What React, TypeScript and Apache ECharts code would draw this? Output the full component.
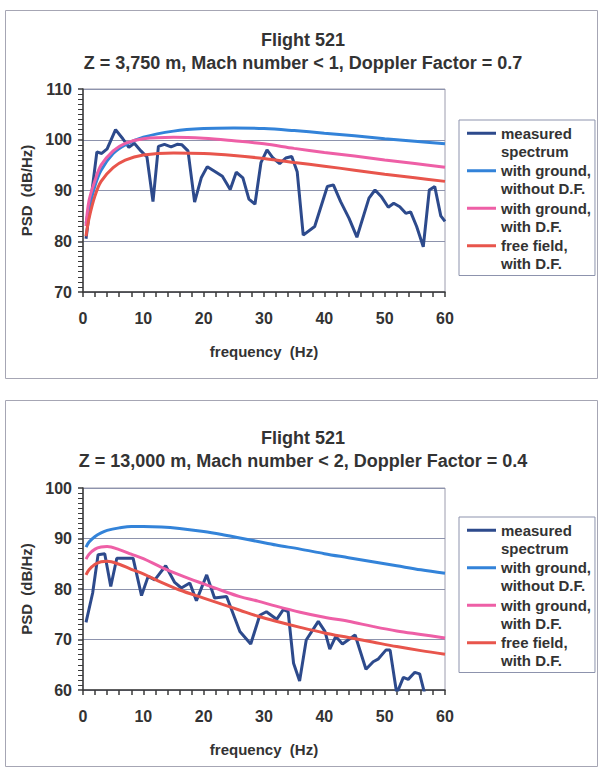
import React, { useEffect, useRef } from "react";
import * as echarts from "echarts";

// ---------- data: top chart (Z = 3,750 m) ----------
const topMeasFreq = [0.5, 2.3, 3.1, 4.0, 5.4, 6.6, 7.6, 8.5, 9.6, 10.6, 11.6, 12.5, 13.5, 14.6, 15.6, 16.4, 17.4, 18.5, 19.6, 20.6, 21.8, 23.1, 24.4, 25.4, 26.5, 27.5, 28.5, 29.5, 30.5, 31.5, 32.6, 33.6, 34.6, 35.5, 36.5, 38.4, 40.5, 41.5, 42.7, 44.1, 45.4, 47.4, 48.4, 49.5, 50.6, 51.5, 52.5, 53.5, 54.3, 55.3, 56.4, 57.4, 58.3, 59.3, 60];
const topMeasPsd = [80.5, 97.6, 97.3, 98.2, 102.0, 100.2, 98.5, 99.3, 97.8, 96.6, 87.8, 98.7, 99.1, 98.6, 99.1, 99.0, 97.8, 87.7, 92.5, 94.7, 93.8, 92.8, 90.2, 93.6, 92.5, 88.3, 87.3, 95.5, 98.0, 96.4, 95.3, 96.4, 96.7, 93.7, 81.2, 82.9, 90.8, 91.1, 87.8, 84.5, 80.8, 88.5, 90.1, 88.7, 86.7, 87.5, 86.8, 85.5, 85.8, 82.9, 78.9, 90.1, 90.8, 85.0, 83.9];
const topModelFreq = [0.5, 1, 2, 3, 5, 7, 10, 15, 20, 25, 30, 35, 40, 45, 50, 55, 60];
const topGroundNoDF = [83.5, 86.5, 91.0, 94.0, 97.3, 99.0, 100.5, 101.7, 102.2, 102.3, 102.2, 101.8, 101.3, 100.8, 100.2, 99.7, 99.2];
const topGroundDF = [83.0, 88.0, 92.0, 95.0, 97.8, 99.3, 100.2, 100.5, 100.3, 99.8, 99.2, 98.3, 97.5, 96.8, 96.0, 95.3, 94.6];
const topFreeDF = [81.0, 84.5, 89.0, 91.8, 94.5, 96.0, 97.0, 97.4, 97.3, 96.9, 96.3, 95.5, 94.8, 94.0, 93.2, 92.5, 91.8];

// ---------- data: bottom chart (Z = 13,000 m) ----------
const botMeasFreq = [0.5, 1.6, 2.5, 3.6, 4.6, 5.6, 8.3, 9.7, 10.8, 11.9, 13.7, 15.2, 16.3, 17.7, 18.8, 20.5, 21.8, 23.8, 26.0, 27.8, 29.3, 30.4, 32.1, 33.2, 34.0, 34.9, 35.9, 37.0, 39.0, 40.1, 40.9, 41.9, 43.0, 45.1, 46.9, 48.1, 48.9, 50.2, 50.9, 52.0, 53.1, 53.9, 55.0, 55.8, 57.0];
const botMeasPsd = [73.4, 79.2, 86.8, 87.0, 80.5, 86.1, 86.1, 78.7, 82.5, 81.8, 84.6, 81.3, 80.2, 81.2, 77.7, 82.8, 78.2, 78.5, 71.6, 69.1, 74.8, 75.5, 74.0, 75.9, 75.5, 65.3, 61.8, 69.9, 73.6, 71.6, 68.1, 70.6, 69.1, 70.9, 64.1, 65.6, 66.1, 67.9, 67.9, 59.3, 62.5, 62.1, 63.5, 63.2, 57.5];
const botModelFreq = [0.5, 1, 2, 3, 4, 6, 8, 10, 13, 16, 20, 23, 26, 29, 32, 36, 40, 44, 48, 52, 56, 60];
const botGroundNoDF = [88.3, 89.3, 90.4, 91.1, 91.6, 92.1, 92.4, 92.4, 92.3, 92.0, 91.4, 90.8, 90.1, 89.4, 88.7, 87.9, 87.0, 86.2, 85.4, 84.6, 83.8, 83.1];
const botGroundDF = [85.9, 86.9, 87.9, 88.3, 88.4, 87.8, 86.9, 86.0, 84.3, 82.8, 81.0, 79.7, 78.5, 77.6, 76.6, 75.4, 74.4, 73.6, 72.6, 71.7, 71.0, 70.3];
const botFreeDF = [82.8, 83.8, 84.9, 85.4, 85.5, 84.9, 83.9, 83.0, 81.3, 79.8, 78.2, 77.0, 75.8, 74.6, 73.6, 72.4, 71.3, 70.4, 69.5, 68.6, 67.8, 67.1];

// ---------- labels ----------
const titleTop = "Flight 521\nZ = 3,750 m, Mach number < 1, Doppler Factor = 0.7";
const titleBottom = "Flight 521\nZ = 13,000 m, Mach number < 2, Doppler Factor = 0.4";
const seriesNames = ["measured spectrum", "with ground, without D.F.", "with ground, with D.F.", "free field, with D.F."];
const legendLabels = ["measured\nspectrum", "with ground,\nwithout D.F.", "with ground,\nwith D.F.", "free field,\nwith D.F."];
const seriesColors = ["#2d4a8c", "#3383d9", "#ee5fa6", "#e8554c"];
const xAxisName = "frequency  (Hz)";
const yAxisName = "PSD  (dB/Hz)";

const FONT = "'Liberation Sans', Arial, Helvetica, sans-serif";
const TXT = "#333333";

function zip(xs: number[], ys: number[]) {
  return xs.map((x, i) => [x, ys[i]]);
}

export default function App() {
  const ref = useRef<HTMLDivElement>(null);

  useEffect(() => {
    if (!ref.current) return;
    const chart = echarts.init(ref.current, null, { renderer: "svg" });

    const grids = [
      { left: 83, top: 89, width: 362, height: 203 },
      { left: 83, top: 488, width: 362, height: 202 },
    ];
    const yRanges = [
      [70, 110],
      [60, 100],
    ];

    const axisLabelStyle = { fontFamily: FONT, fontWeight: "bold" as const, fontSize: 16, color: TXT };
    const nameStyle = { fontFamily: FONT, fontWeight: "bold" as const, fontSize: 15, color: TXT };

    const xAxes = grids.map((_, i) => ({
      type: "value" as const,
      gridIndex: i,
      min: 0,
      max: 60,
      interval: 10,
      name: xAxisName,
      nameLocation: "middle" as const,
      nameGap: 52,
      nameTextStyle: nameStyle,
      axisLine: { show: true, onZero: false, lineStyle: { color: "#3a3a3a", width: 1.5 } },
      axisTick: { show: true, length: 5, lineStyle: { color: "#3a3a3a", width: 1.5 } },
      minorTick: { show: true, splitNumber: 5, length: 5, lineStyle: { color: "#3a3a3a", width: 1.5 } },
      splitLine: { show: false },
      axisLabel: { ...axisLabelStyle, margin: 18 },
    }));

    const yAxes = grids.map((_, i) => ({
      type: "value" as const,
      gridIndex: i,
      min: yRanges[i][0],
      max: yRanges[i][1],
      interval: 10,
      name: yAxisName,
      nameLocation: "middle" as const,
      nameGap: 47,
      nameTextStyle: nameStyle,
      axisLine: { show: true, onZero: false, lineStyle: { color: "#3a3a3a", width: 1.5 } },
      axisTick: { show: true, length: 5, lineStyle: { color: "#3a3a3a", width: 1.5 } },
      minorTick: { show: true, splitNumber: 10, length: 5, lineStyle: { color: "#3a3a3a", width: 1 } },
      splitLine: { show: true, lineStyle: { color: "#8d93ad", width: 1 } },
      axisLabel: { ...axisLabelStyle, margin: 11 },
    }));

    const dataSets = [
      [zip(topMeasFreq, topMeasPsd), zip(topModelFreq, topGroundNoDF), zip(topModelFreq, topGroundDF), zip(topModelFreq, topFreeDF)],
      [zip(botMeasFreq, botMeasPsd), zip(botModelFreq, botGroundNoDF), zip(botModelFreq, botGroundDF), zip(botModelFreq, botFreeDF)],
    ];

    const series: any[] = [];
    dataSets.forEach((sets, gi) => {
      sets.forEach((d, si) => {
        series.push({
          type: "line",
          name: seriesNames[si],
          xAxisIndex: gi,
          yAxisIndex: gi,
          data: d,
          showSymbol: false,
          symbol: "none",
          smooth: si === 0 ? false : 0.35,
          clip: true,
          color: seriesColors[si],
          lineStyle: { color: seriesColors[si], width: 3 },
          z: 2 + si,
        });
      });
    });

    const legendIcon = "path://M0,0h30v3h-30z M0,21h0.01";
    const legends = [120, 517].map((top) => ({
      orient: "vertical" as const,
      left: 459,
      top,
      icon: legendIcon,
      itemWidth: 29,
      itemHeight: 21,
      itemGap: 1.5,
      padding: [4, 4, 3, 8],
      borderColor: "#8d93ad",
      borderWidth: 1,
      selectedMode: false,
      data: seriesNames.map((n, i) => ({ name: n, itemStyle: { color: seriesColors[i], borderWidth: 0 } })),
      formatter: (name: string) => legendLabels[seriesNames.indexOf(name)],
      textStyle: { fontFamily: FONT, fontWeight: "bold" as const, fontSize: 15, lineHeight: 18, color: TXT },
    }));

    const titles = [
      { text: titleTop, top: 28 },
      { text: titleBottom, top: 426 },
    ].map((t) => ({
      text: t.text,
      left: 303,
      top: t.top,
      padding: 0,
      textAlign: "center" as const,
      textStyle: { fontFamily: FONT, fontWeight: "bold" as const, fontSize: 18, lineHeight: 23, color: TXT },
    }));

    chart.setOption({
      animation: false,
      backgroundColor: "#ffffff",
      title: titles,
      legend: legends,
      grid: grids.map((g) => ({ ...g, show: true, borderColor: "#9c9cae", borderWidth: 1, backgroundColor: "transparent" })),
      xAxis: xAxes,
      yAxis: yAxes,
      series,
      graphic: [
        { type: "rect", silent: true, z: -1, shape: { x: 5.5, y: 10.5, width: 592, height: 368 }, style: { fill: "none", stroke: "#a6a6b4", lineWidth: 1 } },
        { type: "rect", silent: true, z: -1, shape: { x: 5.5, y: 400.5, width: 592, height: 366 }, style: { fill: "none", stroke: "#a6a6b4", lineWidth: 1 } },
      ],
    });

    return () => chart.dispose();
  }, []);

  return (
    <div
      ref={ref}
      style={{ position: "fixed", left: 0, top: 0, width: 601, height: 771, background: "#ffffff" }}
    />
  );
}
